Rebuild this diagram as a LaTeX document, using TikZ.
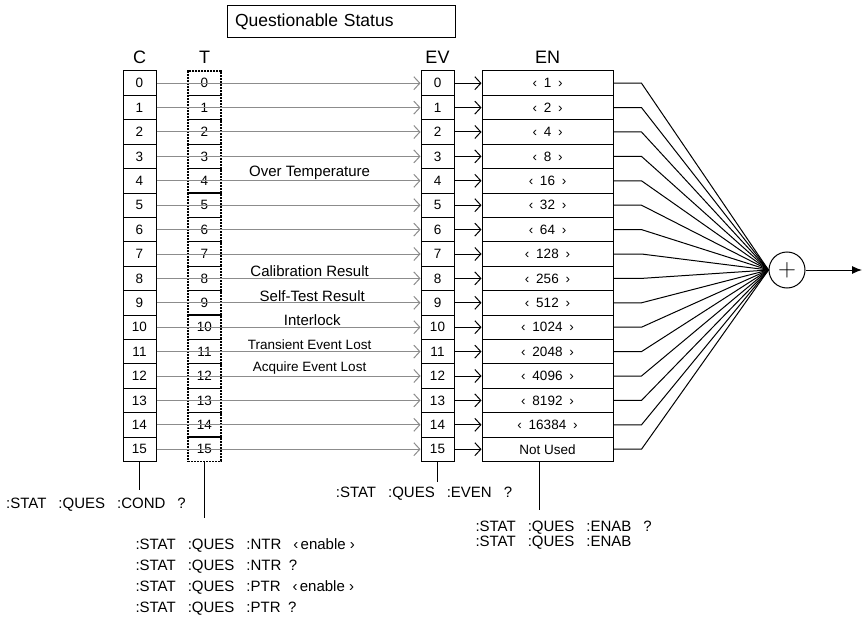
\documentclass[tikz,border=0pt]{standalone}
\usepackage{fontspec}
\setmainfont{Liberation Sans}
\usetikzlibrary{arrows.meta}
\newcommand\gapq{\hspace{0.8em}}
\newcommand\chv[1]{‹\hspace{0.5em}#1\hspace{0.5em}›}
\tikzset{
  cell/.style={rectangle, draw, minimum width=33pt, minimum height=24.4pt, inner sep=0pt, font=\fontsize{13.5}{15}\selectfont},
  tcell/.style={cell, dash pattern=on 2pt off 1pt, line width=1.1pt},
  encell/.style={cell, minimum width=131pt},
  hdr/.style={font=\fontsize{18}{20}\selectfont},
  gry/.style={-{Straight Barb[length=6pt,width=13pt]}, color=black!45},
  blk/.style={-{Straight Barb[length=6pt,width=13pt]}},
  lab/.style={above, inner sep=1pt, pos=0.58, font=\fontsize{15}{17}\selectfont},
  cmd/.style={font=\fontsize{15}{21}\selectfont, align=left, inner sep=0pt}
}

\begin{document}
\begin{tikzpicture}[x=1pt, y=-1pt, line width=1pt]
\useasboundingbox (0,0) rectangle (865,623);
\node[draw, minimum width=228pt, minimum height=32pt, text width=212pt, inner xsep=8pt, align=left,
      font=\fontsize{17.5}{19}\selectfont] (title) at (341,22) {Questionable Status};
\node[hdr] (hC) at (139.5,57) {C};
\node[hdr] (hT) at (204.5,57) {T};
\node[hdr] (hEV) at (437.5,57) {EV};
\node[hdr] (hEN) at (547.5,57) {EN};
% register cells
\foreach \i/\v in {0/1,1/2,2/4,3/8,4/16,5/32,6/64,7/128,8/256,9/512,10/1024,11/2048,12/4096,13/8192,14/16384,15/0} {
  \node[cell] (C\i) at (139.5,83.2+24.4*\i) {\i};
  \node[tcell] (T\i) at (204.5,83.2+24.4*\i) {\i};
  \node[cell] (EV\i) at (437.5,83.2+24.4*\i) {\i};
  \node[encell] (EN\i) at (547.5,83.2+24.4*\i) {\ifnum\i=15 Not Used\else\chv{\v}\fi};
  \draw[gry] (C\i.east) -- (EV\i.west);
  \draw[blk] (EV\i.east) -- (EN\i.west);
}
\path (C4.east) -- node[lab] {Over Temperature} (EV4.west);
\path (C8.east) -- node[lab] {Calibration Result} (EV8.west);
\path (C9.east) -- node[lab, pos=0.59] {Self-Test Result} (EV9.west);
\path (C10.east) -- node[lab, pos=0.59] {Interlock} (EV10.west);
\path (C11.east) -- node[lab, font=\fontsize{13.5}{15}\selectfont] {Transient Event Lost} (EV11.west);
\path (C12.east) -- node[lab, font=\fontsize{13.5}{15}\selectfont] {Acquire Event Lost} (EV12.west);
% summary
\node[circle, draw, minimum size=36pt, inner sep=0pt, font=\fontsize{24}{24}\selectfont] (sum) at (787,270) {$+$};
\foreach \i in {0,...,15}
  \draw (EN\i.east) -- ++(28,0) -- (sum.west);
\coordinate (out) at (862,270);
\draw[-{Latex[length=10pt,width=8pt]}] (sum.east) -- (out);
% queries
\coordinate (Cend) at (139.5,490);
\draw (C15.south) -- (Cend);
\node[cmd] (condq) at (96,505) {:STAT\gapq:QUES\gapq:COND\gapq?};
\coordinate (Tend) at (204.5,518);
\draw (T15.south) -- (Tend);
\node[cmd, anchor=north west] (trq) at (135,538) {%
:STAT\gapq:QUES\gapq:NTR\gapq‹\hspace{0.15em}enable ›\\
:STAT\gapq:QUES\gapq:NTR\hspace{0.5em}?\\
:STAT\gapq:QUES\gapq:PTR\gapq‹\hspace{0.15em}enable ›\\
:STAT\gapq:QUES\gapq:PTR\hspace{0.5em}?};
\coordinate (EVend) at (437.5,482);
\draw (EV15.south) -- (EVend);
\node[cmd] (evq) at (424,494) {:STAT\gapq:QUES\gapq:EVEN\gapq?};
\coordinate (ENend) at (539,510);
\draw (EN15.south -| ENend) -- (ENend);
\node[cmd, anchor=north west, font=\fontsize{15}{15}\selectfont] (enq) at (475,521) {%
:STAT\gapq:QUES\gapq:ENAB\gapq?\\
:STAT\gapq:QUES\gapq:ENAB};
\end{tikzpicture}
\end{document}
